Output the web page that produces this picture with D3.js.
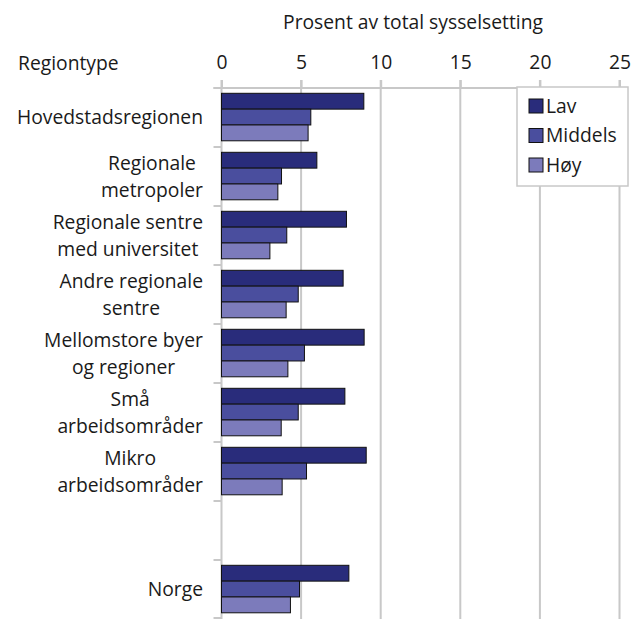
<!DOCTYPE html>
<html>
<head>
<meta charset="utf-8">
<script src="https://cdn.jsdelivr.net/npm/d3@7"></script>
<style>
  body { margin: 0; background: #fff; }
  text { font-family: "Open Sans", "Noto Sans", sans-serif; fill: #1a1a1a; }
</style>
</head>
<body>
<svg></svg>
<script>
const width = 644;
const height = 619;

const categories = [
    ["Hovedstadsregionen"],
    ["Regionale", "metropoler"],
    ["Regionale sentre", "med universitet"],
    ["Andre regionale", "sentre"],
    ["Mellomstore byer", "og regioner"],
    ["Små", "arbeidsområder"],
    ["Mikro", "arbeidsområder"],
    [],
    ["Norge"]
];
const series = ["Lav", "Middels", "Høy"];
const lav     = [8.94, 5.99, 7.85, 7.64, 8.96, 7.75, 9.09, null, 8.0];
const middels = [5.61, 3.77, 4.10, 4.82, 5.21, 4.82, 5.34, null, 4.90];
const hoy     = [5.44, 3.54, 3.04, 4.06, 4.17, 3.75, 3.81, null, 4.33];
const xTicks = [0, 5, 10, 15, 20, 25];
const colors = ["#292c7b", "#4a4e9e", "#7c7bbb"];

const values = [lav, middels, hoy];
const plotLeft = 221.5, plotRight = 619.5, plotTop = 88, plotBottom = 619;
const fontSize = "19.3px";

let svg = d3.select("svg")
    .attr("width", width)
    .attr("height", height)

let x = d3.scaleLinear().domain([0, 25]).range([plotLeft, plotRight]);
let y = d3.scaleBand().domain(d3.range(categories.length)).range([plotTop, plotBottom]);
let sub = d3.scaleBand().domain(series).range([5.3, 52.8]);

// grid lines
svg.append("g")
    .selectAll("line")
    .data(xTicks.slice(1))
    .join("line")
    .attr("x1", d => x(d)).attr("x2", d => x(d))
    .attr("y1", plotTop - 8).attr("y2", plotBottom)
    .attr("stroke", "#c8c8c8")
    .attr("stroke-width", 2)

// top axis
let xAxis = svg.append("g")
    .attr("transform", `translate(0, ${plotTop})`)
    .call(d3.axisTop(x).tickValues(xTicks).tickSize(8).tickPadding(11).tickSizeOuter(0))
xAxis.select(".domain").remove()
xAxis.append("line")
    .attr("x1", plotLeft - 8).attr("x2", plotRight + 8)
    .attr("stroke", "#c8c8c8").attr("stroke-width", 2)
xAxis.selectAll(".tick line").attr("stroke", "#c8c8c8").attr("stroke-width", 2)
xAxis.selectAll(".tick text")
    .style("font-size", fontSize)
    .style("font-family", '"Open Sans", sans-serif')
    .attr("fill", "#1a1a1a")

// left axis
let yAxis = svg.append("g")
svg.append("line")
    .attr("x1", plotLeft).attr("x2", plotLeft)
    .attr("y1", plotTop - 8).attr("y2", plotBottom)
    .attr("stroke", "#c8c8c8").attr("stroke-width", 2)
yAxis.selectAll("line")
    .data(d3.range(categories.length + 1))
    .join("line")
    .attr("x1", plotLeft - 8).attr("x2", plotLeft)
    .attr("y1", d => d < categories.length ? y(d) : plotBottom - 1)
    .attr("y2", d => d < categories.length ? y(d) : plotBottom - 1)
    .attr("stroke", "#c8c8c8").attr("stroke-width", 2)

// bars
categories.forEach((c, i) => {
    series.forEach((s, j) => {
        let v = values[j][i];
        if (v === null) return;
        svg.append("rect")
            .attr("x", x(0))
            .attr("y", y(i) + sub(s))
            .attr("width", x(v) - x(0))
            .attr("height", sub.bandwidth())
            .attr("fill", colors[j])
            .attr("stroke", "#111")
            .attr("stroke-width", 1)
    })
})

// category labels, lines centred on each other, block right aligned
const labelRight = 203;
let measure = svg.append("text").style("font-size", fontSize);
categories.forEach((lines, i) => {
    if (!lines.length) return;
    let widths = lines.map(l => { measure.text(l); return measure.node().getComputedTextLength(); });
    let blockW = d3.max(widths);
    let cx = labelRight - blockW / 2;
    let lh = 27.5;
    let cy = y(i) + y.bandwidth() / 2;
    lines.forEach((l, k) => {
        svg.append("text")
            .attr("x", cx)
            .attr("y", cy + (k - (lines.length - 1) / 2) * lh)
            .attr("dy", "0.35em")
            .attr("text-anchor", "middle")
            .style("font-size", fontSize)
            .text(l)
    })
})
measure.remove()

svg.append("text")
    .attr("x", 18).attr("y", 63).attr("dy", "0.35em")
    .style("font-size", fontSize)
    .text("Regiontype")

svg.append("text")
    .attr("x", 413).attr("y", 22).attr("dy", "0.35em")
    .attr("text-anchor", "middle")
    .style("font-size", fontSize)
    .text("Prosent av total sysselsetting")

// legend
let legend = svg.append("g").attr("transform", "translate(517, 87)")
legend.append("rect")
    .attr("width", 111).attr("height", 99)
    .attr("fill", "#fff").attr("stroke", "#c8c8c8").attr("stroke-width", 1.5)
series.forEach((s, j) => {
    let g = legend.append("g").attr("transform", `translate(12, ${19 + j * 29.5})`)
    g.append("rect")
        .attr("y", -7).attr("width", 14).attr("height", 14)
        .attr("fill", colors[j]).attr("stroke", "#111")
    g.append("text")
        .attr("x", 17).attr("dy", "0.35em")
        .style("font-size", fontSize)
        .text(s)
})
</script>
</body>
</html>
